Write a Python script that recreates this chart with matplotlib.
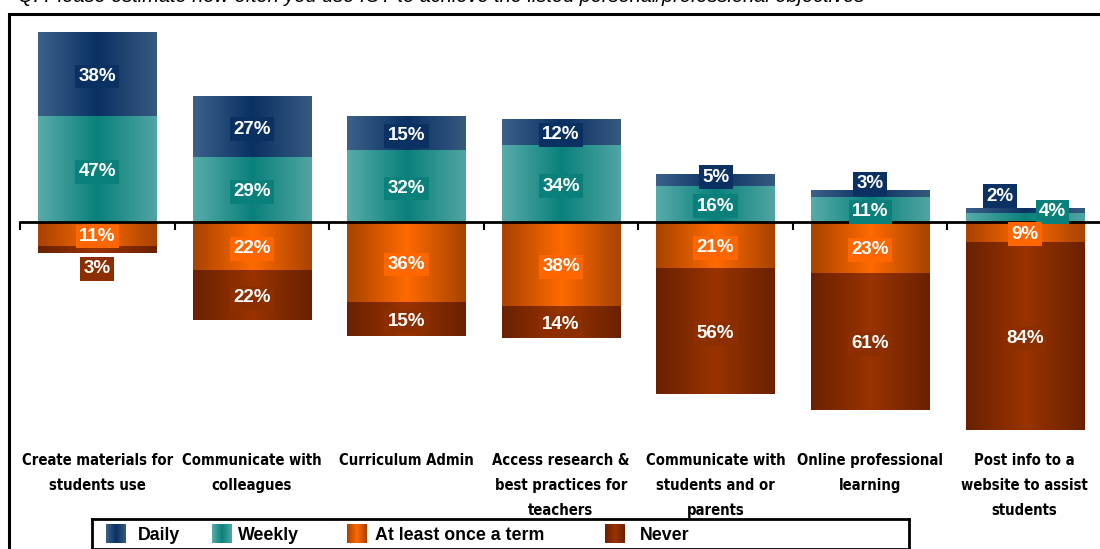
import numpy as np
import matplotlib
matplotlib.use("Agg")
import matplotlib.pyplot as plt
from matplotlib.colors import LinearSegmentedColormap
from matplotlib import font_manager

# Antworten je Ziel (Prozent)
kategorien = ["Create materials for\nstudents use",
              "Communicate with\ncolleagues",
              "Curriculum Admin",
              "Access research &\nbest practices for\nteachers",
              "Communicate with\nstudents and or\nparents",
              "Online professional\nlearning",
              "Post info to a\nwebsite to assist\nstudents"]
daily = [38, 27, 15, 12, 5, 3, 2]
weekly = [47, 29, 32, 34, 16, 11, 4]
term = [11, 22, 36, 38, 21, 23, 9]
never = [3, 22, 15, 14, 56, 61, 84]
serien = ["Daily", "Weekly", "At least once a term", "Never"]

titel = "Q: Please estimate how often you use ICT to achieve the listed personal/professional objectives"

# Farbverlauf (Rand, Mitte, Rand) und Farbe der Beschriftungsbox
farben = {
    "Daily": (["#3b6089", "#0a3163", "#36597f"], "#0b3163"),
    "Weekly": (["#57aba9", "#0a807b", "#4fa5a2"], "#0a807b"),
    "At least once a term": (["#a84300", "#ff6a00", "#a84300"], "#fd6600"),
    "Never": (["#6b2100", "#993300", "#6b2100"], "#8c2e00"),
}

# kleine Segmente: Label verschieben (dx in Kategorien, dy in %)
label_shift = {("Never", 0): (0, -7.5),
               ("Daily", 4): (0, 2.5),
               ("Daily", 5): (0, 5.5),
               ("Daily", 6): (-0.16, 7.5),
               ("Weekly", 6): (0.18, 3.5)}

font_main = ["Liberation Sans", "DejaVu Sans"]

# schmale Schrift, falls vorhanden
namen = {f.name for f in font_manager.fontManager.ttflist}
condensed = [f for f in font_manager.fontManager.ttflist
             if f.name == "DejaVu Sans" and f.stretch == "condensed"]
for kandidat in ["Liberation Sans Narrow", "Arial Narrow"]:
    if kandidat in namen:
        font_narrow, stretch_narrow, size_narrow = [kandidat], "normal", 12.5
        break
else:
    if condensed:
        font_narrow, stretch_narrow, size_narrow = ["DejaVu Sans"], "condensed", 10.6
    else:
        font_narrow, stretch_narrow, size_narrow = ["Liberation Sans"], "normal", 11.0

fig = plt.figure(figsize=(11, 5.49), dpi=100)
W, H = 1100, 549

# Rahmen ums Diagramm
fig.add_artist(plt.Rectangle((9 / W, -0.01), 1.2, (H - 13.5) / H + 0.01,
                             transform=fig.transFigure, fill=False,
                             edgecolor="black", lw=2.2))
fig.text(18 / W, 1 - 1.5 / H, titel, fontsize=14.4, style="italic",
         family=font_main, va="baseline", ha="left")

ax = fig.add_axes([20 / W, (H - 440) / H, 1082 / W, 426 / H])
ax.set_xlim(-0.5, 6.5)
ax.set_ylim(-97.5, 93)

x = np.arange(len(kategorien))
breite = 0.765

def gradient_bars(bars, name):
    cols, _ = farben[name]
    cmap = LinearSegmentedColormap.from_list(name, cols)
    grad = np.linspace(0, 1, 64).reshape(1, -1)
    for b in bars:
        x0, y0 = b.get_x(), b.get_y()
        w, h = b.get_width(), b.get_height()
        if h == 0:
            continue
        ax.imshow(grad, cmap=cmap, aspect="auto", interpolation="bicubic",
                  extent=(x0, x0 + w, y0, y0 + h), zorder=2)

segmente = {
    "Weekly": (np.array(weekly), np.zeros(7)),
    "Daily": (np.array(daily), np.array(weekly)),
    "At least once a term": (-np.array(term), np.zeros(7)),
    "Never": (-np.array(never), -np.array(term)),
}

for name in serien:
    werte, basis = segmente[name]
    bars = ax.bar(x, werte, breite, bottom=basis, color="none", lw=0, zorder=1)
    gradient_bars(bars, name)
    box = farben[name][1]
    for i, b in enumerate(bars):
        dx, dy = label_shift.get((name, i), (0, 0))
        yc = b.get_y() + b.get_height() / 2 - 1.0
        ax.text(b.get_x() + b.get_width() / 2 + dx, yc + dy,
                f"{abs(int(werte[i]))}%", ha="center", va="center",
                color="white", fontsize=13.5, fontweight="bold",
                family=font_main, zorder=5,
                bbox=dict(boxstyle="square,pad=0.18", fc=box, ec="none"))

# Nulllinie mit Teilstrichen zwischen den Kategorien
for s in ["top", "right", "left"]:
    ax.spines[s].set_visible(False)
ax.spines["bottom"].set_position(("data", 0))
ax.spines["bottom"].set_linewidth(2)
ax.spines["bottom"].set_zorder(4)
ax.set_xticks(np.arange(-0.5, 6.5, 1.0))
ax.set_xticklabels([])
ax.tick_params(axis="x", direction="out", length=6, width=1.5)
ax.set_yticks([])
ax.patch.set_visible(False)

# Kategorienbeschriftung unter dem Diagramm
for i, k in enumerate(kategorien):
    ax.text(x[i], -103.2, k, ha="center", va="top", fontsize=size_narrow,
            fontweight="bold", family=font_narrow, fontstretch=stretch_narrow,
            linespacing=1.85, clip_on=False)

# Legende von Hand (Verlaufs-Symbole)
lax = fig.add_axes([92 / W, 0, (909 - 92) / W, 30 / H])
lax.set_xticks([])
lax.set_yticks([])
for s in lax.spines.values():
    s.set_linewidth(2)
leg_x = [(106, 138), (212, 238), (347, 375), (605, 640)]
for name, (px, tx) in zip(serien, leg_x):
    cmap = LinearSegmentedColormap.from_list(name + "_l", farben[name][0])
    lax.imshow(np.linspace(0, 1, 32).reshape(1, -1), cmap=cmap, aspect="auto",
               extent=(px, px + 20, 543, 524))
    lax.text(tx, 535, name, va="center", ha="left", fontsize=12.8,
             fontweight="bold", family=font_main)
lax.set_xlim(92, 909)
lax.set_ylim(549, 519)

fig.savefig("out.png", dpi=100)
